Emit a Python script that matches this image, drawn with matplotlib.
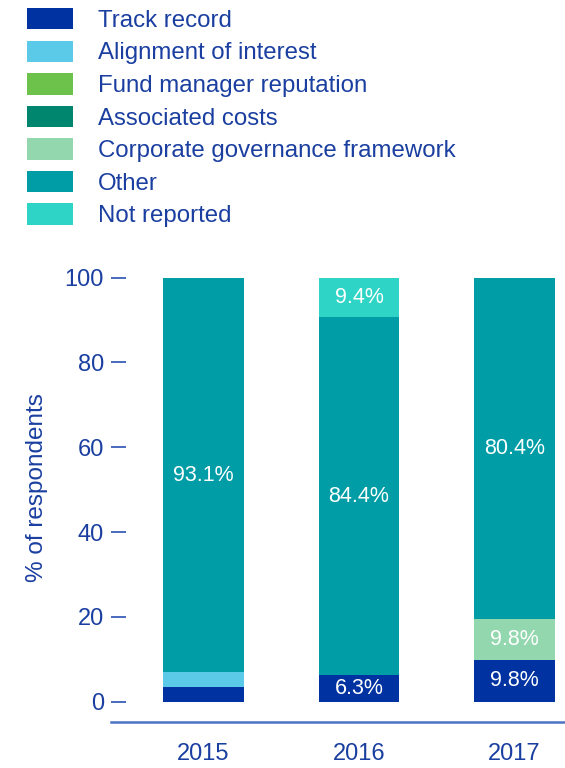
import matplotlib.pyplot as plt
import numpy as np

plt.rcParams['font.family'] = ['Liberation Sans', 'DejaVu Sans']

# survey shares per year (%)
years = ['2015', '2016', '2017']
categories = ['Track record', 'Alignment of interest', 'Fund manager reputation',
              'Associated costs', 'Corporate governance framework', 'Other',
              'Not reported']
track_record = [3.45, 6.3, 9.8]
alignment = [3.45, 0, 0]
fund_manager = [0, 0, 0]
associated_costs = [0, 0, 0]
corp_governance = [0, 0, 9.8]
other = [93.1, 84.4, 80.4]
not_reported = [0, 9.4, 0]

colors = ['#0033A1', '#5BCAE8', '#6CC24A', '#00866E', '#93D7AF', '#009DA6', '#2ED4C6']
navy = '#1A3FA0'

series = [track_record, alignment, fund_manager, associated_costs,
          corp_governance, other, not_reported]

fig = plt.figure(figsize=(5.65, 7.68), dpi=100)
ax = fig.add_axes([111/565, 1-722/768, 1-111/565, (722-277.7)/768])

x = np.arange(len(years))
bottom = np.zeros(len(years))
handles = []
for vals, col, name in zip(series, colors, categories):
    vals = np.array(vals, dtype=float)
    b = ax.bar(x, vals, 0.52, bottom=bottom, color=col, label=name, linewidth=0)
    handles.append(b)
    for xi, v, b0 in zip(x, vals, bottom):
        if v >= 5:
            ax.text(xi, b0 + v/2, f'{v:.1f}%', ha='center', va='center',
                    color='white', fontsize=15.5)
    bottom += vals

ax.set_xlim(-0.595, 2.325)
ax.set_ylim(-4.8, 100)
ax.set_yticks([0, 20, 40, 60, 80, 100])
ax.set_xticks(x)
ax.set_xticklabels(years)
ax.tick_params(axis='y', direction='in', length=10.5, width=1.3, color='#3A5FB8',
               labelsize=17, labelcolor=navy, pad=5)
ax.tick_params(axis='x', length=0, labelsize=17, labelcolor=navy, pad=15)
for s in ['left', 'right', 'top']:
    ax.spines[s].set_visible(False)
ax.spines['bottom'].set_color('#4C74C4')
ax.spines['bottom'].set_linewidth(1.8)

fig.text(37/565, 1-488/768, '% of respondents', rotation=90, ha='center',
         va='center', fontsize=17.5, color=navy)

leg = fig.legend(handles=handles, loc='upper left', bbox_to_anchor=(27/565, 1-8/768),
                 frameon=False, fontsize=17.25, handlelength=1.92, handleheight=1.0,
                 handletextpad=1.04, labelspacing=0.36, borderpad=0, borderaxespad=0)
for t in leg.get_texts():
    t.set_color(navy)

fig.savefig('out.png', dpi=100)
